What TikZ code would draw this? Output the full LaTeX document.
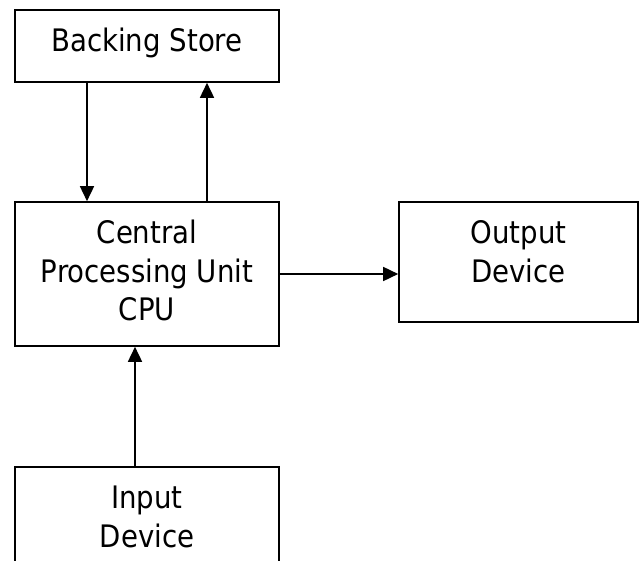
\documentclass[tikz,border=0pt]{standalone}
\usepackage{fontspec}
\setmainfont{DejaVu Sans}[FakeStretch=0.89]
\usetikzlibrary{arrows.meta}

% strut fixing the height of the first text line
\newcommand{\firststrut}{\rule{0pt}{29pt}}

\tikzset{
  unitbox/.style={draw=black, line width=1.6pt, fill=white, inner sep=0pt},
  boxtext/.style={anchor=north, align=center, inner sep=0pt,
    font={\fontsize{31}{38.5}\selectfont}},
  flow/.style={draw=black, line width=1.6pt,
    -{Triangle[length=15pt, width=14pt]}},
}

\begin{document}
\begin{tikzpicture}[x=1pt, y=-1pt]
  \useasboundingbox (0,0) rectangle (639,561);
  \clip (0,0) rectangle (639,561);

  % boxes
  \node[unitbox, minimum width=264pt, minimum height=72pt]  (store)  at (147,46)    {};
  \node[unitbox, minimum width=264pt, minimum height=144pt] (cpu)    at (147,274)   {};
  \node[unitbox, minimum width=239pt, minimum height=120pt] (output) at (518.5,262) {};
  \node[unitbox, minimum width=264pt, minimum height=133pt] (input)  at (147,533.5) {};

  % box captions, set from the top edge
  \node[boxtext] (storetext)  at ([yshift=-13.5pt]store.north)  {\firststrut Backing Store};
  \node[boxtext] (cputext)    at ([yshift=-13.5pt]cpu.north)    {\firststrut Central\\Processing Unit\\CPU};
  \node[boxtext] (outputtext) at ([yshift=-13.5pt]output.north) {\firststrut Output\\Device};
  \node[boxtext] (inputtext)  at ([yshift=-13.5pt]input.north)  {\firststrut Input\\Device};

  % data flow
  \draw[flow] ([xshift=-60pt]store.south) -- ([xshift=-60pt]cpu.north);
  \draw[flow] ([xshift=60pt]cpu.north) -- ([xshift=60pt]store.south);
  \draw[flow] (cpu.east) -- (cpu.east -| output.west);
  \draw[flow] ([xshift=-12pt]input.north) -- ([xshift=-12pt]cpu.south);
\end{tikzpicture}
\end{document}
